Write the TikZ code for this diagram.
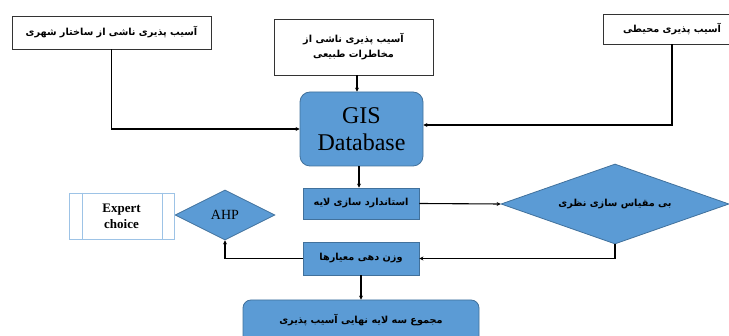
\documentclass[tikz,border=0pt]{standalone}
\usepackage{fontspec}
\TeXXeTstate=1
\setmainfont{Liberation Serif}
\newfontfamily\fa[Script=Arabic]{DejaVu Sans}
\usetikzlibrary{shapes.geometric,arrows.meta}
\definecolor{bfill}{HTML}{5B9BD5}
\definecolor{bdraw}{HTML}{41719C}
\definecolor{lightb}{HTML}{9DC3E6}
\newcommand{\fat}[1]{{\fa\bfseries\fontsize{9.7}{15}\selectfont\beginR #1\endR}}
\tikzset{
  wbox/.style={draw=black!80, fill=white, line width=0.8pt, inner sep=0pt},
  bbox/.style={draw=bdraw, fill=bfill, line width=0.8pt, inner sep=0pt},
  bdia/.style={diamond, draw=bdraw, fill=bfill, line width=0.8pt, inner sep=0pt, aspect=2},
  arr/.style={draw=black, line width=1.1pt, -{Stealth[length=4pt,width=4pt]}},
}
\begin{document}
\begin{tikzpicture}[x=1pt,y=-1pt]
\useasboundingbox (0,0) rectangle (729,336);
\clip (0,0) rectangle (729,336);
\node[wbox, minimum width=199, minimum height=33] (b1) at (111.5,32.5) {\fat{آسیب پذیری ناشی از ساختار شهری}};
\node[wbox, minimum width=159, minimum height=56, align=center] (b2) at (353.5,47) {\fat{آسیب پذیری ناشی از}\\[3pt]\fat{مخاطرات طبیعی}};
\node[wbox, minimum width=138, minimum height=30] (b3) at (672,29) {\fat{آسیب پذیری محیطی}};
\node[bbox, rounded corners=10pt, minimum width=123, minimum height=74, align=center, font=\fontsize{24}{27}\selectfont] (gis) at (361.5,129) {GIS\\Database};
\node[bbox, minimum width=116, minimum height=31] (std) at (361,203.5) {\fat{استاندارد سازی لایه}};
\node[bdia, minimum width=228, minimum height=80] (d1) at (615,204) {\fat{بی مقیاس سازی نظری}};
\node[bbox, minimum width=116, minimum height=33] (vz) at (361,258.5) {\fat{وزن دهی معیارها}};
\node[bdia, minimum width=100, minimum height=50, font=\fontsize{14}{16}\selectfont] (ahp) at (225,215) {AHP};
\node[draw=lightb, line width=0.8pt, minimum width=105, minimum height=46, align=center, inner sep=0pt, font=\bfseries\fontsize{13}{16}\selectfont] (ec) at (121.5,216) {Expert\\choice};
\draw[lightb, line width=0.8pt] ([xshift=14pt]ec.north west) -- ([xshift=14pt]ec.south west);
\draw[lightb, line width=0.8pt] ([xshift=-12pt]ec.north east) -- ([xshift=-12pt]ec.south east);
\node[bbox, rounded corners=8pt, minimum width=236, minimum height=44] (fin) at (361,322) {\raisebox{6pt}{\fat{مجموع سه لایه نهایی آسیب پذیری}}};
% connectors
\draw[arr] (b1.south) |- (gis.west);
\draw[arr] (b2.south -| 357,0) -- (gis.north -| 357,0);
\draw[arr] (b3.south) |- (gis.east |- 0,125);
\draw[arr] (gis.south -| 359,0) -- (std.north -| 359,0);
\draw[arr] (std.east) -- (d1.west);
\draw[arr] (d1.south) |- (vz.east);
\draw[arr] (vz.west) -| (ahp.south);
\draw[arr] (vz.south) -- (fin.north);
\end{tikzpicture}
\end{document}
